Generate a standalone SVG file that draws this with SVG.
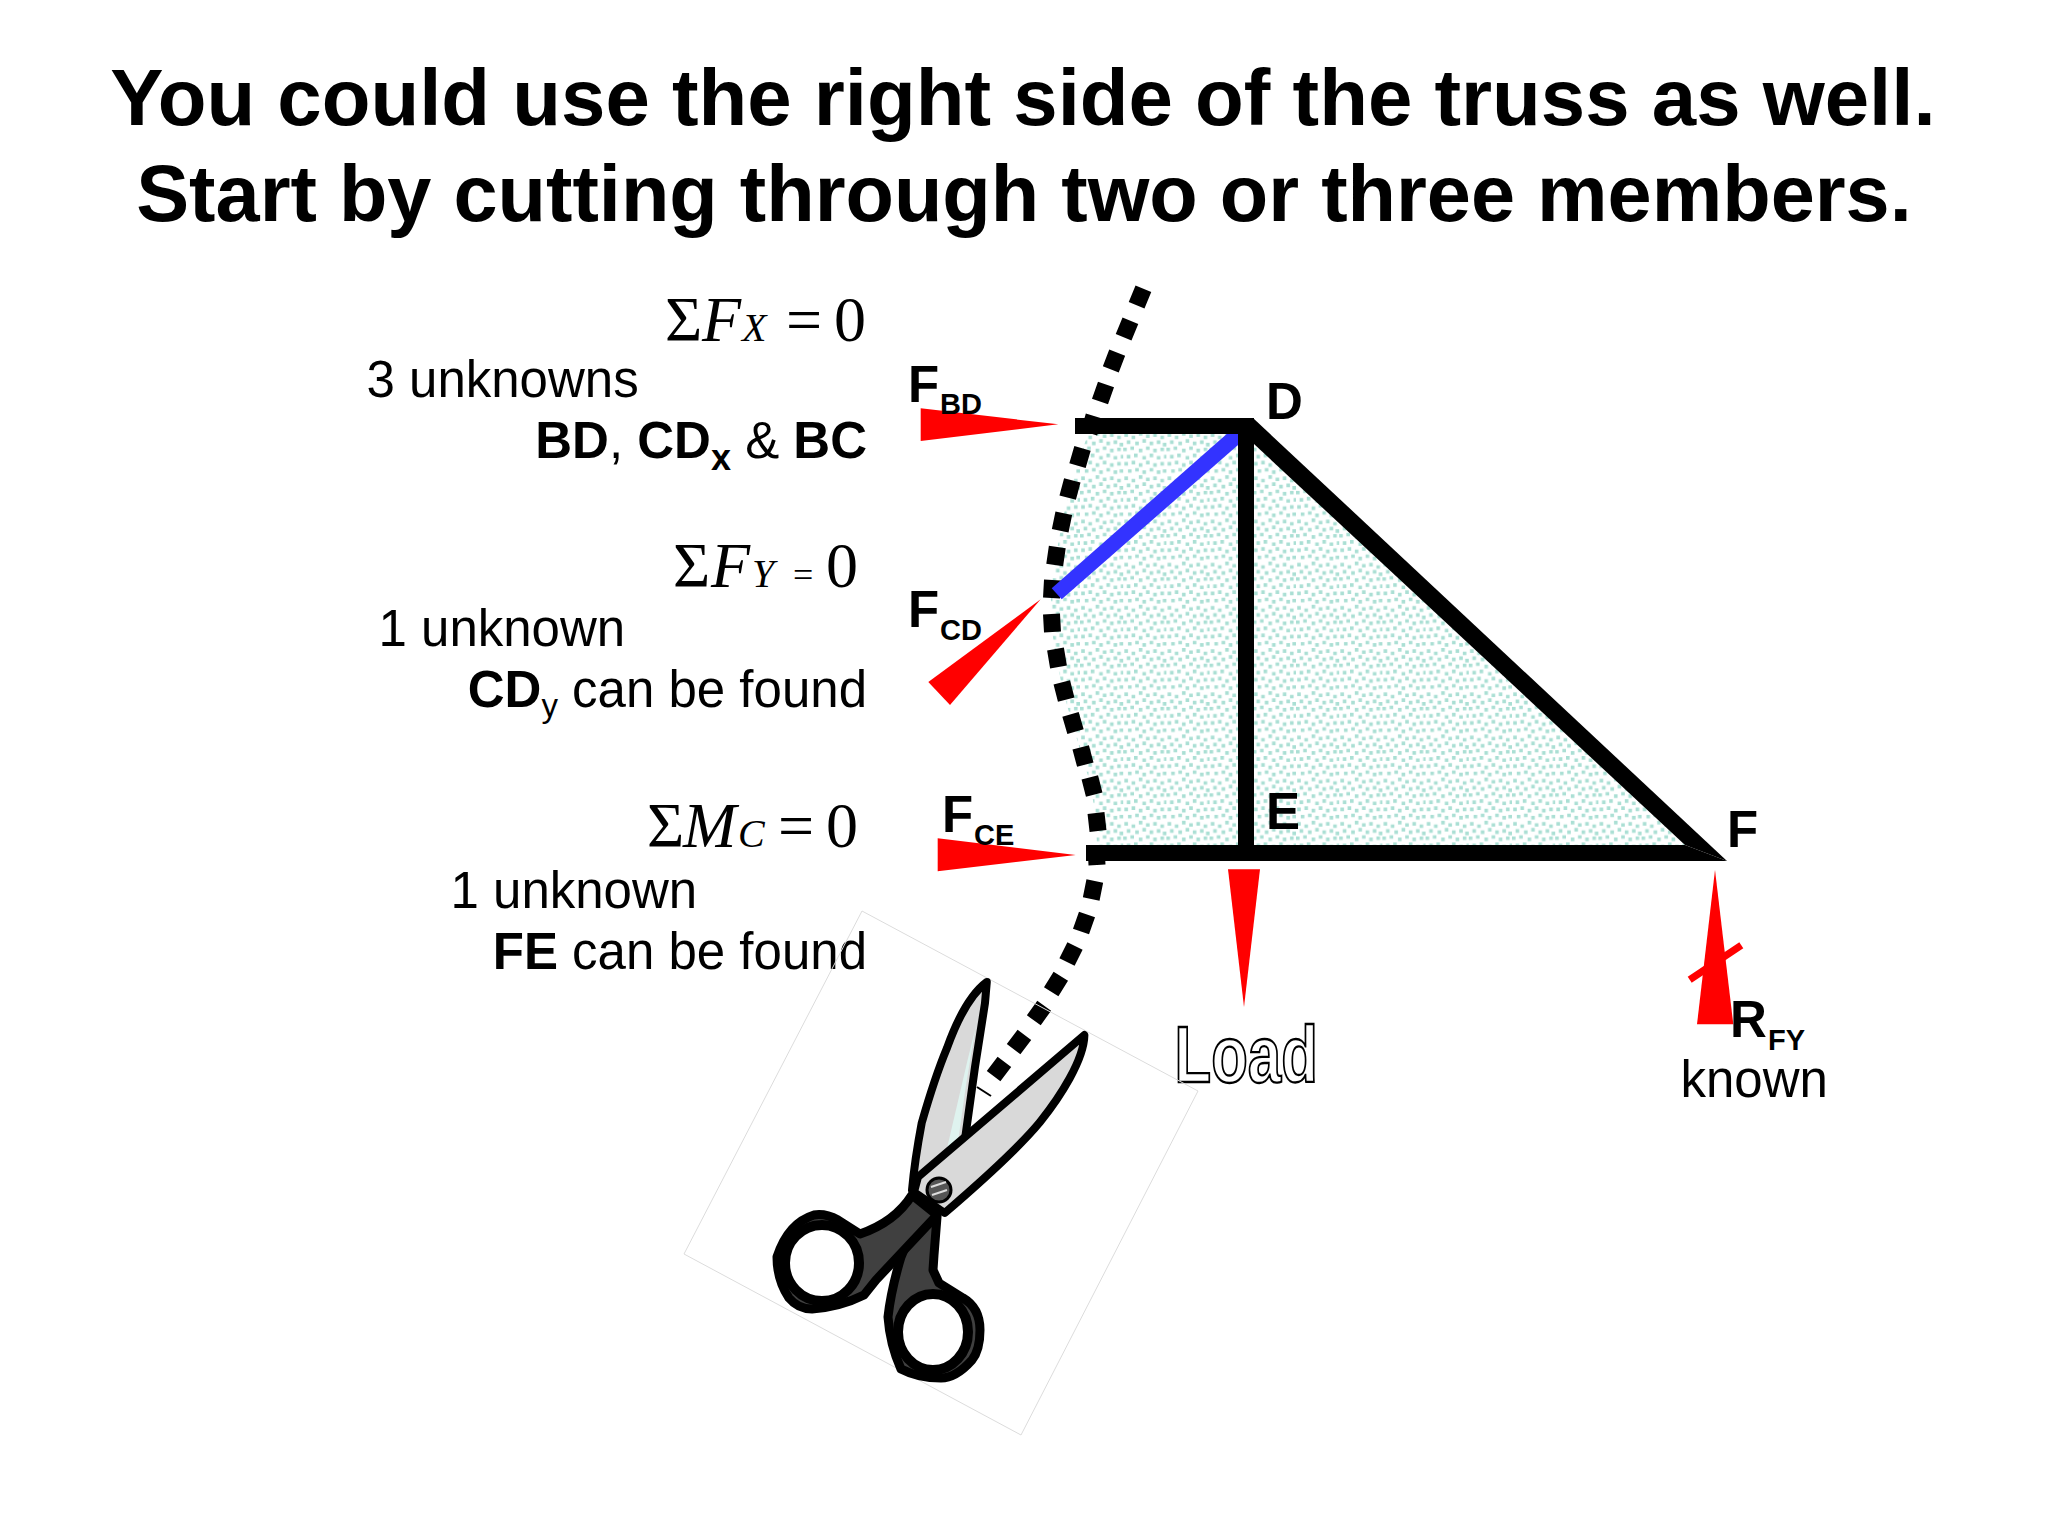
<svg xmlns="http://www.w3.org/2000/svg" width="2048" height="1536" viewBox="0 0 2048 1536">
<style>
text{font-family:"Liberation Sans",Arial,sans-serif;fill:#000}
.title{font-size:79.8px;font-weight:bold;text-anchor:middle}
.t{font-size:51px}
.b{font-weight:bold}
.lab{font-size:51px;font-weight:bold}
.sub{font-size:29px;font-weight:bold}
.eq{font-family:"Liberation Serif","Times New Roman",serif;font-size:64px}
.i{font-style:italic}
.s{font-style:italic;font-size:40px}
.red{fill:#ff0000}
.blk{fill:#000}
.blade{fill:#d9d9d9;stroke:#000;stroke-width:8;stroke-linejoin:round}
.grip{fill:#404040;stroke:#000;stroke-width:9;stroke-linejoin:round}
.hole{fill:#fff;stroke:#000;stroke-width:10}
</style>
<defs>
<pattern id="dots" width="36" height="36" patternUnits="userSpaceOnUse" patternTransform="scale(1.2)">
<path fill="#aadfd4" d="M1 1h3v3h-3zM7 3h3v3h-3zM13 0h3v3h-3zM19 2h3v3h-3zM25 1h3v3h-3zM31 3h3v3h-3zM3 7h3v3h-3zM10 8h3v3h-3zM16 6h3v3h-3zM22 8h3v3h-3zM28 7h3v3h-3zM33 9h3v3h-3zM0 13h3v3h-3zM6 12h3v3h-3zM13 14h3v3h-3zM19 12h3v3h-3zM25 14h3v3h-3zM31 13h3v3h-3zM3 19h3v3h-3zM9 18h3v3h-3zM16 20h3v3h-3zM22 18h3v3h-3zM28 20h3v3h-3zM34 19h2v3h-2zM1 25h3v3h-3zM7 24h3v3h-3zM13 26h3v3h-3zM19 24h3v3h-3zM25 26h3v3h-3zM31 25h3v3h-3zM4 31h3v3h-3zM10 30h3v3h-3zM16 32h3v3h-3zM22 30h3v3h-3zM28 32h3v3h-3zM33 31h3v3h-3z"/>
</pattern>
</defs>
<rect width="2048" height="1536" fill="#fff"/>
<g id="title">
<text class="title" x="1023" y="125">You could use the right side of the truss as well.</text>
<text class="title" x="1024" y="221" style="font-size:79.3px">Start by cutting through two or three members.</text>
</g>
<g id="section-fill">
<path fill="url(#dots)" d="M1088 434L1080 457L1070 489L1062 522L1056 556L1051 589L1051 623L1056 658L1063 691L1072 723L1082 756L1091 786L1096 822L1097 845L1685 845L1246 434Z"/>
</g>
<g id="connectors">
<path id="cut-line" fill="none" stroke="#000" stroke-width="17" d="M1143.4 288.7L1136.6 305.3M1130.4 320.7L1123.6 337.3M1117.2 352.6L1110.8 369.4M1106 384.5L1100 401.5M1094 416L1089 433M1082.5 448.4L1077.5 465.6M1072.3 480.3L1067.7 497.7M1063.8 513.2L1060.2 530.8M1057.3 547L1054.7 565M1052.5 580L1051.5 598M1051.5 614L1052.5 632M1055.5 649L1058.5 667M1061.8 682.3L1066.2 699.7M1070.5 714.4L1075.5 731.6M1080.7 747.3L1085.3 764.7M1089.8 777.3L1094.2 794.7M1096 813L1098 831M1096 846L1097 865M1094.8 881L1091.2 899M1087 914.5L1081 931.5M1075 946L1067 962M1060.8 976.3L1051.2 991.7M1044.2 1005.7L1033.8 1020.3M1024.4 1034.8L1013.6 1049.2M1004.4 1061.8L993.6 1076.2"/>
<path id="cut-tick" fill="none" stroke="#000" stroke-width="2" d="M977 1087L991 1096"/>
<path id="member-BD" class="blk" d="M1075 418H1253V434H1075Z"/>
<path id="member-DE" class="blk" d="M1238 418H1254V861H1238Z"/>
<path id="member-CE-EF" class="blk" d="M1086 845H1685L1727 861H1086Z"/>
<path id="member-DF" class="blk" d="M1253 418L1727 861L1685 845L1254 444Z"/>
<path id="member-CD" fill="#3333ff" d="M1226.7 434H1238V445L1061.7 599.3L1051.7 588.3Z"/>
</g>
<g id="force-BD">
<path class="red" d="M920.7 408.3V441L1058.3 424.3Z"/>
<text class="lab" x="908" y="402">F</text><text class="sub" x="940" y="414">BD</text>
</g>
<g id="force-CD">
<path class="red" d="M1040.7 599.3L928.3 682L950 705Z"/>
<text class="lab" x="908" y="627">F</text><text class="sub" x="940" y="640">CD</text>
</g>
<g id="force-CE">
<path class="red" d="M937.7 838.3V871.3L1075.7 855Z"/>
<text class="lab" x="942" y="832">F</text><text class="sub" x="974" y="845">CE</text>
</g>
<g id="load">
<path class="red" d="M1228 869.3H1260L1244 1007Z"/>
<text transform="translate(1174.5 1082) scale(1 1.33)" font-size="60" font-weight="bold" style="fill:#fff;stroke:#000;stroke-width:2px;vector-effect:non-scaling-stroke">Load</text>
</g>
<g id="reaction">
<path class="red" d="M1715 870L1697 1024.3H1733.3Z"/>
<path class="red" d="M1687.7 976.7L1691.7 982.7L1743.3 948.3L1739.3 942.3Z"/>
<text class="lab" x="1730" y="1037">R</text><text class="sub" x="1768" y="1050">FY</text>
<text class="t" x="1680.5" y="1097">known</text>
</g>
<g id="node-D"><text class="lab" x="1266" y="419">D</text></g>
<g id="node-E"><text class="lab" x="1266" y="829">E</text></g>
<g id="node-F"><text class="lab" x="1727" y="847">F</text></g>
<g id="eq-x">
<text class="eq" y="340.7"><tspan x="665">Σ</tspan><tspan class="i" x="702">F</tspan><tspan class="s" x="742">X</tspan><tspan x="786">=</tspan><tspan x="834">0</tspan></text>
<text class="t" x="366.5" y="397">3 unknowns</text>
<text class="t" x="867" y="458" text-anchor="end"><tspan class="b">BD</tspan>, <tspan class="b">CD</tspan><tspan class="b" dy="12" font-size="36">x</tspan><tspan dy="-12"> &amp; </tspan><tspan class="b">BC</tspan></text>
</g>
<g id="eq-y">
<text class="eq" y="586.7"><tspan x="673">Σ</tspan><tspan class="i" x="711">F</tspan><tspan class="s" x="752">Y</tspan><tspan x="793" font-size="36">=</tspan><tspan x="826">0</tspan></text>
<text class="t" x="378.5" y="646">1 unknown</text>
<text class="t" x="867" y="707" text-anchor="end"><tspan class="b">CD</tspan><tspan dy="10" font-size="33">y</tspan><tspan dy="-10"> can be found</tspan></text>
</g>
<g id="eq-m">
<text class="eq" y="847"><tspan x="647">Σ</tspan><tspan class="i" x="683">M</tspan><tspan class="s" x="738">C</tspan><tspan x="778">=</tspan><tspan x="826">0</tspan></text>
<text class="t" x="450.5" y="908">1 unknown</text>
<text class="t" x="867" y="969" text-anchor="end"><tspan class="b">FE</tspan> can be found</text>
</g>
<g id="scissors">
<path fill="none" stroke="#dcdcdc" stroke-width="1" d="M862 911L1198 1091L1021 1435L684 1254Z"/>
<path class="blade" d="M986.8 982C968 996 956 1023 947 1048C937 1072 926 1108 921.7 1123C917 1148 914 1168 912 1190L930 1180L964.6 1142L975 1067L985 1003Z"/>
<path fill="#dff3ef" d="M979 1007L975 1030L967.6 1060L946.6 1150L958 1142L966 1085Z"/>
<path class="grip" d="M937 1217L934 1255L933 1270L939 1283L963 1298Q980 1308 980 1330Q980 1350 972 1360Q956 1378 941 1378Q918 1378 901 1369Q890 1345 888 1317Q891 1290 901 1257L908 1240Z"/>
<ellipse class="hole" cx="933" cy="1332" rx="35" ry="38"/>
<path class="grip" d="M912 1195Q895 1222 860 1234L838 1220Q825 1213 814 1215Q788 1223 777 1257Q777 1280 789 1298Q798 1309 812 1309Q840 1307 864 1295L876 1280L937 1215Z"/>
<ellipse class="hole" cx="822" cy="1263" rx="37" ry="38"/>
<path class="blade" d="M1084.4 1035C1084 1060 1060 1097 1040 1122C1017 1150 975 1187 944.7 1213L914 1192L918 1177Z"/>
<circle cx="939" cy="1190" r="12" fill="#555" stroke="#000" stroke-width="3"/>
<path fill="none" stroke="#ddd" stroke-width="2" d="M931 1187L946 1182M932 1195L947 1190"/>
</g>
</svg>
